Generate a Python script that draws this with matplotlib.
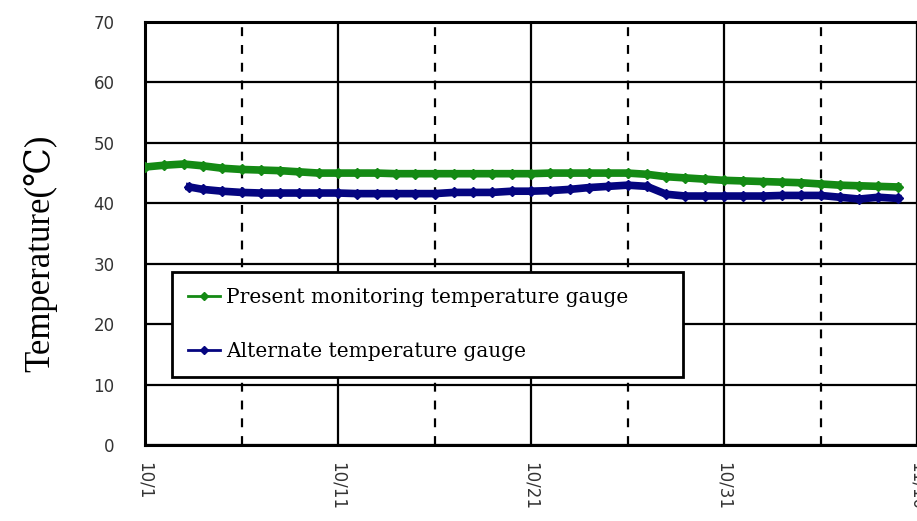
import matplotlib
matplotlib.use("Agg")
import matplotlib.pyplot as plt

# days since 10/1
green_days = list(range(0, 40))
green_temp = [46.0, 46.3, 46.5, 46.2, 45.8, 45.6, 45.5, 45.4, 45.2, 45.0,
              45.0, 45.0, 45.0, 44.9, 44.9, 44.9, 44.9, 44.9, 44.9, 44.9,
              44.9, 45.0, 45.0, 45.0, 45.0, 45.0, 44.8, 44.4, 44.2, 44.0,
              43.8, 43.7, 43.6, 43.5, 43.4, 43.2, 43.0, 42.9, 42.8, 42.7]

blue_days = [2.3] + list(range(3, 40))
blue_temp = [42.7, 42.3, 42.0, 41.8, 41.7, 41.7, 41.7, 41.7, 41.7, 41.6,
             41.6, 41.6, 41.6, 41.6, 41.8, 41.8, 41.8, 42.0, 42.0, 42.1,
             42.3, 42.6, 42.8, 43.0, 42.8, 41.5, 41.2, 41.2, 41.2, 41.2,
             41.2, 41.3, 41.3, 41.3, 41.0, 40.7, 41.0, 40.8]

major_ticks = [0, 10, 20, 30, 40]
major_labels = ["10/1", "10/11", "10/21", "10/31", "11/10"]
minor_ticks = [5, 15, 25, 35]
y_ticks = [0, 10, 20, 30, 40, 50, 60, 70]

fig = plt.figure(figsize=(9.17, 5.21), dpi=100)
ax = fig.add_axes([145 / 917, 76 / 521, (917 - 145) / 917, (445 - 22) / 521])

ax.plot(green_days, green_temp, color="#148a14", lw=5.5, marker="D", ms=5,
        label="Present monitoring temperature gauge", zorder=3)
ax.plot(blue_days, blue_temp, color="#050580", lw=5.5, marker="D", ms=5,
        label="Alternate temperature gauge", zorder=3)

ax.set_xlim(0, 40)
ax.set_ylim(0, 70)
ax.set_xticks(major_ticks)
ax.set_xticklabels(major_labels, rotation=-90, fontsize=12, color="#333333")
ax.set_yticks(y_ticks)
ax.set_yticklabels([str(v) for v in y_ticks], fontsize=12, color="#333333")
ax.tick_params(axis="both", length=0)
ax.tick_params(axis="y", pad=22)
ax.tick_params(axis="x", pad=12)

ax.grid(True, which="major", color="black", lw=1.6)
for m in minor_ticks:
    ax.axvline(m, color="black", lw=1.6, ls=(0, (4, 4)), zorder=1)

for s in ax.spines.values():
    s.set_linewidth(2.2)

ax.set_ylabel("Temperature(℃)", family=["Liberation Serif", "DejaVu Serif"],
              fontsize=25)
ax.yaxis.set_label_coords((57 - 145) / 772, (445 - 253) / 423)

leg = ax.legend(loc="upper left",
                bbox_to_anchor=(27 / 772, (445 - 378) / 423, 511 / 772, 106 / 423),
                mode="expand",
                prop={"family": "DejaVu Serif", "size": 14.5},
                frameon=True, fancybox=False, edgecolor="black",
                borderpad=0.8, labelspacing=1.75, handlelength=1.6,
                handletextpad=0.3, borderaxespad=0)
leg.get_frame().set_linewidth(2)
leg.get_frame().set_alpha(1)
leg.set_zorder(5)
for h in leg.get_lines():
    h.set_linewidth(2)
    h.set_markersize(4)

fig.savefig("out.png", dpi=100)
